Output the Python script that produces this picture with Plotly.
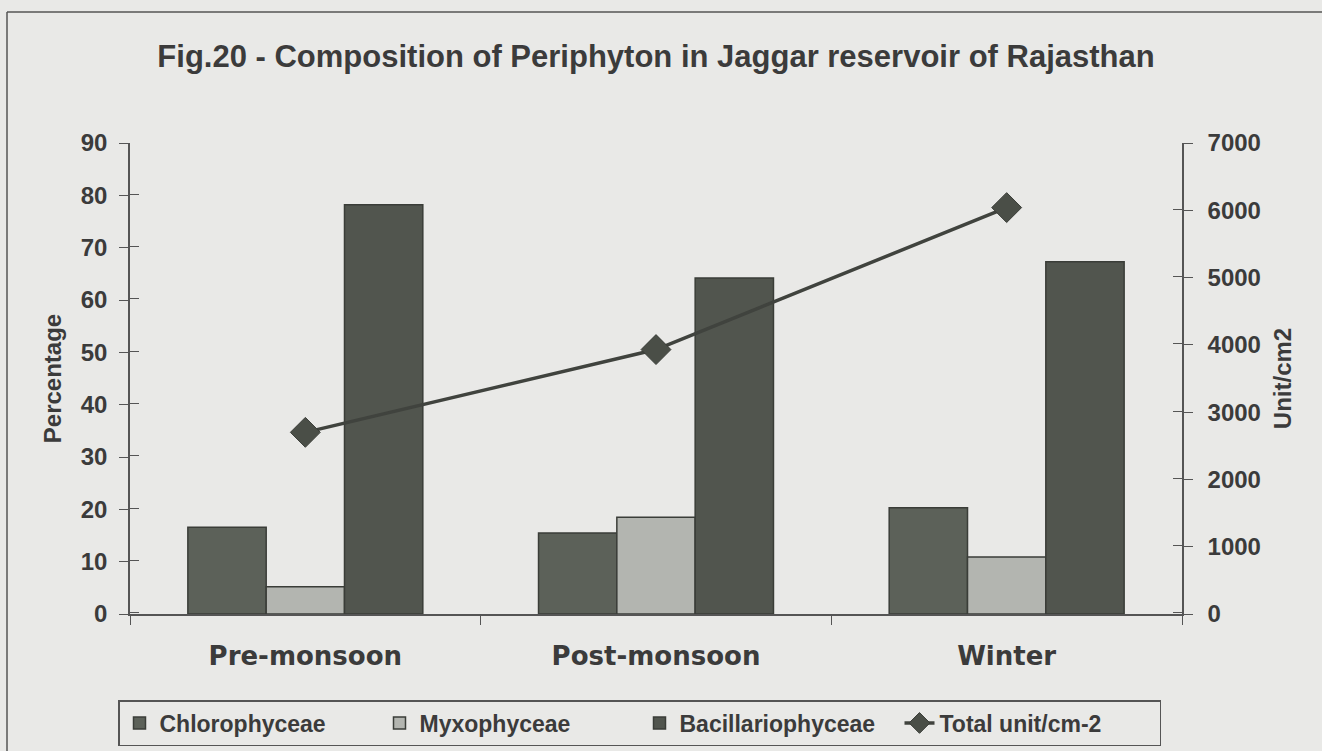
import plotly.graph_objects as go

seasons = ['Pre-monsoon', 'Post-monsoon', 'Winter']
chlorophyceae = [16.6, 15.5, 20.3]
myxophyceae = [5.2, 18.5, 10.9]
bacillariophyceae = [78.2, 64.2, 67.3]
total_units = [2700, 3930, 6040]

pct_ticks = list(range(0, 91, 10))
unit_ticks = list(range(0, 7001, 1000))

FONT = 'Liberation Sans'
TXT = '#3b3b3b'
BG = '#e9e9e7'
EDGE = '#3a3d38'

fig = go.Figure()
fig.add_trace(go.Bar(x=seasons, y=chlorophyceae, name='<b>Chlorophyceae</b>',
                     marker=dict(color='#5c6159', line=dict(color=EDGE, width=1.5))))
fig.add_trace(go.Bar(x=seasons, y=myxophyceae, name='<b>Myxophyceae</b>',
                     marker=dict(color='#b3b5b0', line=dict(color=EDGE, width=1.5))))
fig.add_trace(go.Bar(x=seasons, y=bacillariophyceae, name='<b>Bacillariophyceae</b>',
                     marker=dict(color='#51554e', line=dict(color=EDGE, width=1.5))))
fig.add_trace(go.Scatter(x=seasons, y=total_units, name='<b>Total unit/cm-2</b>', yaxis='y2',
                         mode='lines+markers',
                         line=dict(color='#40433e', width=3.5),
                         marker=dict(symbol='diamond', size=23, color='#4a4e47',
                                     line=dict(color=EDGE, width=1))))

tick_font = dict(family=FONT, size=24, color=TXT, weight='bold')
title_font = dict(family=FONT, size=24, color=TXT)
# inward minor ticks nudged next to the majors -> "+" shaped ticks
cross_left = dict(tickmode='array', tickvals=[v + 0.2 for v in pct_ticks],
                  ticks='inside', ticklen=9, tickcolor='#555')
cross_right = dict(tickmode='array', tickvals=[v + 15 for v in unit_ticks],
                   ticks='inside', ticklen=9, tickcolor='#555')

fig.update_layout(
    width=1322, height=751,
    paper_bgcolor=BG, plot_bgcolor=BG,
    font=dict(family=FONT, color=TXT),
    margin=dict(l=130, r=140, t=143, b=137),
    barmode='group', bargap=0.33, bargroupgap=0,
    title=dict(text='<b>Fig.20 - Composition of Periphyton in Jaggar reservoir of Rajasthan</b>',
               x=0.5, xref='paper', y=1 - 56 / 751, yanchor='middle',
               font=dict(family=FONT, size=31, color=TXT)),
    xaxis=dict(showline=True, linecolor='#555', linewidth=1.5,
               tickfont=dict(family='DejaVu Sans', size=26, color=TXT, weight='bold'),
               ticks='outside', tickson='boundaries', ticklen=9, tickcolor='#555',
               ticklabelstandoff=18, showgrid=False, zeroline=False),
    yaxis=dict(range=[0, 90], tickmode='array', tickvals=pct_ticks, showline=True,
               linecolor='#555', linewidth=1.5,
               ticks='outside', ticklen=9, tickcolor='#555', tickfont=tick_font,
               ticklabelstandoff=7, minor=cross_left,
               showgrid=False, zeroline=False,
               title=dict(text='<b>Percentage</b>', font=title_font, standoff=12)),
    yaxis2=dict(range=[0, 7000], tickmode='array', tickvals=unit_ticks, overlaying='y',
                side='right', showline=True,
                linecolor='#555', linewidth=1.5, ticks='outside', ticklen=9, tickcolor='#555',
                tickfont=tick_font, ticklabelstandoff=10, minor=cross_right,
                showgrid=False, zeroline=False,
                title=dict(text='<b>Unit/cm2</b>', font=title_font, standoff=14)),
    legend=dict(orientation='h', xref='container', yref='container',
                x=118 / 1322, y=1 - 700 / 751, xanchor='left', yanchor='top',
                bgcolor=BG, bordercolor='#555', borderwidth=1.5,
                font=dict(family=FONT, size=23, color=TXT),
                entrywidth=215, traceorder='normal'),
    shapes=[
        dict(type='line', xref='paper', yref='paper',
             x0=(7 - 130) / 1052, x1=(1330 - 130) / 1052,
             y0=(614 - 12) / 471, y1=(614 - 12) / 471,
             line=dict(color='#555', width=1.5)),
        dict(type='line', xref='paper', yref='paper',
             x0=(7 - 130) / 1052, x1=(7 - 130) / 1052,
             y0=(614 - 12) / 471, y1=(614 - 760) / 471,
             line=dict(color='#555', width=1.5)),
    ],
)

fig.write_html('out.html', config={'displayModeBar': False},
               post_script="document.body.style.margin='0';")
